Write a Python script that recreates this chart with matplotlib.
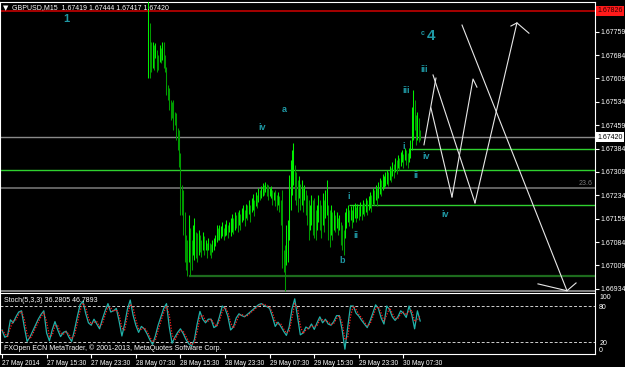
import numpy as np
import matplotlib
matplotlib.use("Agg")
import matplotlib.pyplot as plt
from matplotlib.transforms import blended_transform_factory

plt.rcParams['font.family'] = ['Liberation Sans', 'DejaVu Sans']

# ---------------- data ----------------
chart_title = "GBPUSD,M15  1.67419 1.67444 1.67417 1.67420"
first_visible_bar = 105

bar_high = [
    1.67860, 1.67787, 1.67726, 1.67726, 1.67716, 1.67722, 1.67700, 1.67684, 1.67716, 1.67706,
    1.67726, 1.67726, 1.67684, 1.67646, 1.67588, 1.67578, 1.67540, 1.67533, 1.67540, 1.67501,
    1.67498, 1.67450, 1.67444, 1.67370, 1.67267, 1.67251, 1.67181, 1.67107, 1.67091, 1.67171,
    1.67130, 1.67091, 1.67139, 1.67162, 1.67117, 1.67113, 1.67123, 1.67107, 1.67091, 1.67117,
    1.67104, 1.67091, 1.67081, 1.67097, 1.67081, 1.67078, 1.67091, 1.67097, 1.67107, 1.67139,
    1.67130, 1.67139, 1.67136, 1.67149, 1.67130, 1.67142, 1.67155, 1.67139, 1.67149, 1.67162,
    1.67174, 1.67162, 1.67181, 1.67171, 1.67181, 1.67187, 1.67174, 1.67194, 1.67203, 1.67187,
    1.67206, 1.67203, 1.67219, 1.67203, 1.67226, 1.67239, 1.67219, 1.67245, 1.67235, 1.67258,
    1.67251, 1.67264, 1.67274, 1.67267, 1.67277, 1.67271, 1.67267, 1.67258, 1.67264, 1.67251,
    1.67245, 1.67251, 1.67235, 1.67245, 1.67232, 1.67219, 1.67251, 1.67059, 1.67075, 1.67139,
    1.67155, 1.67299, 1.67347, 1.67380, 1.67402, 1.67331, 1.67309, 1.67283, 1.67296, 1.67271,
    1.67283, 1.67258, 1.67267, 1.67251, 1.67235, 1.67219, 1.67203, 1.67235, 1.67219, 1.67226,
    1.67187, 1.67203, 1.67235, 1.67219, 1.67203, 1.67242, 1.67219, 1.67251, 1.67283, 1.67203,
    1.67187, 1.67203, 1.67181, 1.67187, 1.67171, 1.67181, 1.67162, 1.67171, 1.67149, 1.67139,
    1.67123, 1.67181, 1.67194, 1.67203, 1.67187, 1.67200, 1.67187, 1.67203, 1.67210, 1.67197,
    1.67206, 1.67200, 1.67213, 1.67203, 1.67219, 1.67210, 1.67226, 1.67219, 1.67232, 1.67245,
    1.67235, 1.67258, 1.67251, 1.67267, 1.67258, 1.67277, 1.67290, 1.67283, 1.67303, 1.67296,
    1.67309, 1.67315, 1.67309, 1.67328, 1.67322, 1.67341, 1.67335, 1.67354, 1.67347, 1.67363,
    1.67354, 1.67373, 1.67380, 1.67367, 1.67386, 1.67380, 1.67370, 1.67386, 1.67412, 1.67517,
    1.67572, 1.67540, 1.67492, 1.67501, 1.67482, 1.67444,
]
bar_low = [
    1.67610, 1.67610, 1.67630, 1.67642, 1.67636, 1.67674, 1.67630, 1.67636, 1.67662, 1.67658,
    1.67668, 1.67642, 1.67630, 1.67556, 1.67540, 1.67508, 1.67476, 1.67482, 1.67444, 1.67460,
    1.67412, 1.67380, 1.67325, 1.67171, 1.67171, 1.67107, 1.67021, 1.66995, 1.66976, 1.67021,
    1.66976, 1.66995, 1.67043, 1.67027, 1.67033, 1.67021, 1.67043, 1.67053, 1.67037, 1.67059,
    1.67043, 1.67059, 1.67033, 1.67059, 1.67043, 1.67033, 1.67053, 1.67059, 1.67072, 1.67085,
    1.67091, 1.67091, 1.67097, 1.67104, 1.67091, 1.67104, 1.67107, 1.67097, 1.67117, 1.67104,
    1.67117, 1.67110, 1.67123, 1.67130, 1.67117, 1.67139, 1.67123, 1.67149, 1.67155, 1.67136,
    1.67162, 1.67155, 1.67174, 1.67149, 1.67181, 1.67187, 1.67168, 1.67200, 1.67194, 1.67213,
    1.67219, 1.67226, 1.67232, 1.67235, 1.67245, 1.67232, 1.67219, 1.67232, 1.67226, 1.67203,
    1.67219, 1.67200, 1.67187, 1.67203, 1.67181, 1.67139, 1.67001, 1.66989, 1.66928, 1.67011,
    1.67021, 1.67091, 1.67187, 1.67235, 1.67267, 1.67219, 1.67203, 1.67181, 1.67226, 1.67187,
    1.67203, 1.67181, 1.67219, 1.67171, 1.67139, 1.67091, 1.67123, 1.67139, 1.67107, 1.67097,
    1.67091, 1.67123, 1.67149, 1.67123, 1.67097, 1.67139, 1.67117, 1.67162, 1.67171, 1.67091,
    1.67069, 1.67107, 1.67091, 1.67123, 1.67117, 1.67130, 1.67107, 1.67123, 1.67075, 1.67059,
    1.67043, 1.67097, 1.67130, 1.67149, 1.67136, 1.67155, 1.67130, 1.67149, 1.67162, 1.67149,
    1.67162, 1.67155, 1.67168, 1.67155, 1.67174, 1.67168, 1.67181, 1.67171, 1.67187, 1.67194,
    1.67181, 1.67206, 1.67203, 1.67219, 1.67200, 1.67226, 1.67239, 1.67232, 1.67251, 1.67258,
    1.67264, 1.67271, 1.67264, 1.67283, 1.67277, 1.67296, 1.67290, 1.67309, 1.67303, 1.67322,
    1.67315, 1.67328, 1.67341, 1.67322, 1.67347, 1.67331, 1.67322, 1.67341, 1.67354, 1.67380,
    1.67412, 1.67444, 1.67396, 1.67412, 1.67405, 1.67412,
]

# Stochastic (5,3,3), one reading every 2 bars from bar 0
stoch_step = 2
stoch_k = [
    40, 28, 30, 57, 52, 62, 70, 72, 45, 21, 28, 38, 48, 58, 66, 72, 35, 22, 40, 54,
    40, 29, 36, 38, 28, 21, 40, 62, 82, 88, 68, 52, 48, 58, 50, 42, 58, 72, 84, 70,
    72, 76, 55, 30, 50, 75, 90, 65, 48, 36, 46, 42, 34, 24, 16, 30, 48, 62, 76, 84,
    45, 18, 28, 36, 42, 34, 24, 17, 13, 24, 50, 71, 58, 52, 58, 58, 44, 47, 62, 80,
    76, 63, 40, 45, 60, 67, 64, 62, 66, 70, 74, 78, 82, 84, 81, 79, 76, 62, 46, 53,
    46, 38, 31, 45, 75, 92, 62, 32, 35, 45, 42, 50, 41, 52, 62, 52, 58, 50, 48, 54,
    64, 64, 40, 8, 45, 80, 80, 68, 63, 56, 50, 44, 55, 68, 82, 76, 60, 50, 80, 74,
    62, 56, 62, 72, 68, 61, 80, 65, 42, 72, 55,
]
stoch_d = [
    40, 34, 29, 44, 55, 57, 66, 71, 58, 33, 25, 33, 43, 53, 62, 69, 54, 29, 31, 47,
    47, 35, 33, 37, 33, 25, 31, 51, 72, 85, 78, 60, 50, 53, 54, 46, 50, 65, 78, 77,
    71, 74, 66, 43, 40, 63, 83, 78, 57, 42, 41, 44, 38, 29, 20, 23, 39, 55, 69, 80,
    65, 32, 23, 32, 39, 38, 29, 21, 15, 19, 37, 61, 65, 55, 55, 58, 51, 46, 55, 71,
    78, 70, 52, 43, 53, 64, 66, 63, 64, 68, 72, 76, 80, 83, 83, 80, 78, 69, 54, 50,
    50, 42, 35, 38, 60, 84, 77, 47, 34, 40, 44, 46, 46, 47, 57, 57, 55, 54, 49, 51,
    59, 64, 52, 24, 27, 63, 80, 74, 66, 60, 53, 47, 50, 62, 75, 79, 68, 55, 65, 77,
    68, 59, 59, 67, 70, 65, 71, 73, 54, 57, 64,
]
stoch_levels = [80, 20]
stoch_axis_labels = [100, 80, 20, 0]
stoch_title = "Stoch(5,3,3) 36.2805 46.7893"
copyright_text = "FXOpen ECN MetaTrader, \u00a9 2001-2013, MetaQuotes Software Corp."

time_label_bars = [0, 32, 64, 96, 128, 160, 192, 224, 256, 288]
time_labels = ["27 May 2014", "27 May 15:30", "27 May 23:30", "28 May 07:30",
               "28 May 15:30", "28 May 23:30", "29 May 07:30", "29 May 15:30",
               "29 May 23:30", "30 May 07:30"]

price_ticks = [1.67759, 1.67684, 1.67609, 1.67534, 1.67459, 1.67384,
               1.67309, 1.67234, 1.67159, 1.67084, 1.67009, 1.66934]
red_line_price = 1.67826
bid_price = 1.67420

# horizontal support / resistance lines: price, first bar, colour
level_prices = [1.67826, 1.67420, 1.67384, 1.67314, 1.67258, 1.67203, 1.66976, 1.66928]
level_start_bars = [-5, -5, 293, -5, -5, 249, 134, -5]
level_colors = ['#b40000', '#8a8a8a', '#2fd02f', '#2fd02f', '#6a6a6a', '#2fd02f', '#1d6b1d', '#9a9a9a']
level_widths = [1.3, 1.0, 1.0, 1.0, 1.3, 1.0, 1.6, 1.2]
fib_label = "23.6"
fib_price = 1.67258

# Elliott wave labels
wave_texts = ["1", "c", "4", "iii", "iii", "a", "iv", "i", "iv", "ii", "i", "ii", "b", "iv"]
wave_bars = [45.9, 302.0, 307.7, 302.7, 289.8, 202.3, 186.5, 288.4, 304.2, 297.0, 248.9, 254.0, 243.9, 317.8]
wave_prices = [1.67799, 1.67754, 1.67745, 1.67636, 1.67569, 1.67508, 1.67453, 1.67392,
               1.67360, 1.67299, 1.67229, 1.67104, 1.67024, 1.67174]
wave_sizes = [8, 5, 11, 6.5, 6.5, 6.5, 6.5, 6.5, 6.5, 6.5, 6.5, 6.5, 6.5, 6.5]

# hand-drawn forecast lines (bar, price)
path_bars = [
    [302.7, 311.3],
    [307.7, 322.8],
    [322.8, 337.9, 340.7],
    [309.2, 339.3],
    [339.3, 369.4],
    [365.1, 369.4, 378.0],
    [330.0, 405.3],
    [384.5, 405.3, 411.8],
]
path_prices = [
    [1.67396, 1.67610],
    [1.67514, 1.67229],
    [1.67229, 1.67607, 1.67581],
    [1.67620, 1.67210],
    [1.67210, 1.67787],
    [1.67777, 1.67787, 1.67754],
    [1.67780, 1.66928],
    [1.66950, 1.66928, 1.66953],
]

# ---------------- figure ----------------
W, H = 625, 367
fig = plt.figure(figsize=(W / 100, H / 100), dpi=100, facecolor='black')

def frac(x0, y0, x1, y1):
    return [x0 / W, 1 - y1 / H, (x1 - x0) / W, (y1 - y0) / H]

px_per_bar = 1.394
x_lim = (-2 / px_per_bar, (595 - 2) / px_per_bar)
AX_FS = 5

ax = fig.add_axes(frac(0, 2, 595, 292))
ax.set_facecolor('black')
ax.set_xlim(*x_lim)
ax.set_ylim(1.66924, 1.67854)

for p, sb, c, lw in zip(level_prices, level_start_bars, level_colors, level_widths):
    ax.plot([sb, x_lim[1] + 5], [p, p], color=c, lw=lw, solid_capstyle='butt', zorder=1)

bars = np.arange(first_visible_bar, first_visible_bar + len(bar_high))
hi = np.array(bar_high)
lo = np.array(bar_low)
mid = (hi + lo) / 2
up = np.r_[True, mid[1:] >= mid[:-1]]
cols = np.where(up, '#00f000', '#009a00')
ax.vlines(bars, lo, hi, colors=cols, lw=0.75, zorder=3)

for xs, ys in zip(path_bars, path_prices):
    ax.plot(xs, ys, color='#e8e8e8', lw=0.8, zorder=4)

for t, b, p, s in zip(wave_texts, wave_bars, wave_prices, wave_sizes):
    ax.text(b, p, t, color='#1f98a4', fontsize=s, fontweight='bold',
            ha='center', va='center', zorder=5)

ax.text(x_lim[1] - 1.5, fib_price + 0.00004, fib_label, color='#7a7a7a', fontsize=AX_FS,
        ha='right', va='bottom')

ax.set_xticks([])
ax.yaxis.tick_right()
ax.set_yticks(price_ticks)
ax.set_yticklabels([f"{p:.5f}" for p in price_ticks])
ax.tick_params(axis='y', colors='white', labelcolor='white', labelsize=AX_FS, length=3, width=0.8, pad=1)
for s in ['top', 'right', 'left']:
    ax.spines[s].set_color('white')
    ax.spines[s].set_linewidth(0.8)
ax.spines['bottom'].set_visible(False)

tr = blended_transform_factory(ax.transAxes, ax.transData)
ax.text(1.004, red_line_price, f"{red_line_price:.5f}", transform=tr, fontsize=AX_FS,
        color='#300000', ha='left', va='center', clip_on=False,
        bbox=dict(boxstyle='square,pad=0.2', fc='#ff1a1a', ec='none'))
ax.text(1.004, bid_price, f"{bid_price:.5f}", transform=tr, fontsize=AX_FS,
        color='black', ha='left', va='center', clip_on=False,
        bbox=dict(boxstyle='square,pad=0.2', fc='white', ec='none'))

# title
fig.text(3 / W, 1 - 8 / H, "\u25bc", color='white', fontsize=5, family='DejaVu Sans',
         ha='left', va='center')
fig.text(12 / W, 1 - 8 / H, chart_title, color='white', fontsize=5, ha='left', va='center')

# ---------------- stochastic ----------------
ax2 = fig.add_axes(frac(0, 293, 595, 354))
ax2.set_facecolor('black')
ax2.set_xlim(*x_lim)
ax2.set_ylim(0, 101.7)
sx = np.arange(len(stoch_k)) * stoch_step
for lv in stoch_levels:
    ax2.axhline(lv, color='#d0d0d0', lw=0.7, ls=(0, (3, 2)))
ax2.plot(sx, stoch_k, color='#20b2aa', lw=0.9, zorder=3)
ax2.plot(sx, stoch_d, color='#ff2020', lw=0.9, ls=(0, (1, 1.2)), zorder=4)
for s in ax2.spines.values():
    s.set_color('white')
    s.set_linewidth(0.8)
ax2.yaxis.tick_right()
ax2.set_yticks(stoch_axis_labels)
ax2.set_yticklabels([str(v) for v in stoch_axis_labels])
ax2.tick_params(axis='y', colors='white', labelcolor='white', labelsize=AX_FS, length=0, pad=3)
for lbl, v in zip(ax2.get_yticklabels(), stoch_axis_labels):
    if v == 100:
        lbl.set_va('top')
    elif v == 0:
        lbl.set_va('bottom')
ax2.set_xticks(time_label_bars)
ax2.set_xticklabels(time_labels, ha='left')
ax2.tick_params(axis='x', colors='white', labelcolor='white', labelsize=4.7, length=3,
                width=0.8, pad=1)
ax2.text(4 / 595, 0.93, stoch_title, transform=ax2.transAxes, color='white',
         fontsize=AX_FS, ha='left', va='top')
ax2.text(4 / 595, 0.03, copyright_text, transform=ax2.transAxes, color='white',
         fontsize=AX_FS, ha='left', va='bottom')

fig.savefig('out.png', dpi=100, facecolor='black')
